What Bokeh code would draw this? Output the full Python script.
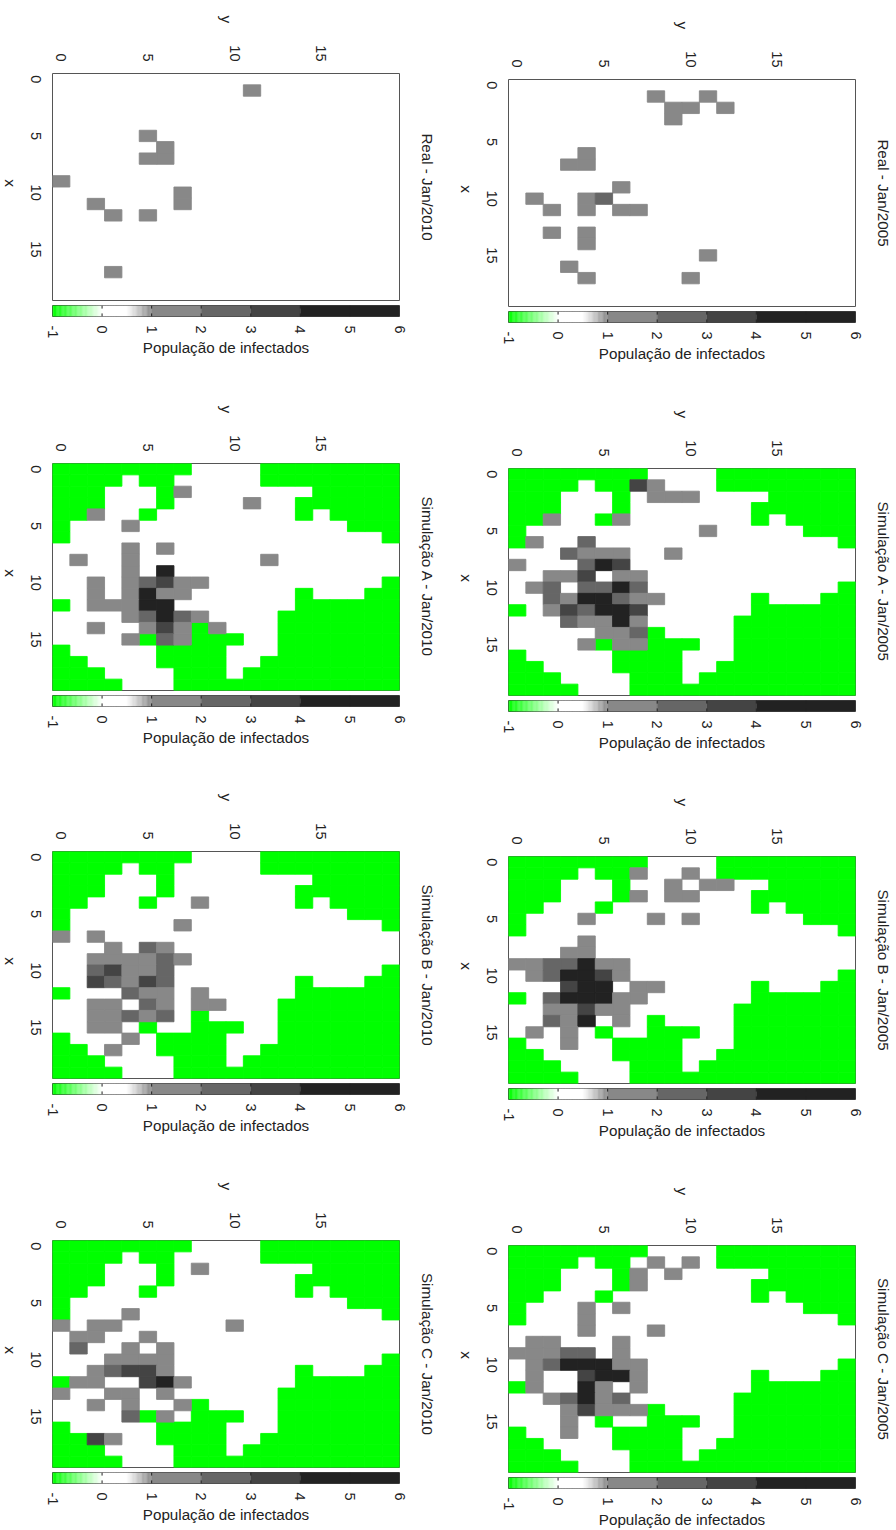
import math
import numpy as np
from bokeh.plotting import figure
from bokeh.layouts import column, row
from bokeh.models import Range1d, FixedTicker, LinearAxis, ColumnDataSource
from bokeh.embed import file_html
from bokeh.resources import INLINE

# Map mask: g = outside region (value -1, green), . = inside region
outside_mask = [
    "gggggggg....gggggggg",
    "gggg.gg.....gggggggg",
    "ggg...g........ggggg",
    "ggg...g.......gggggg",
    "gg...g........g.gggg",
    "g................ggg",
    "g..................g",
    "....................",
    "....................",
    "....................",
    "...................g",
    "..............g...gg",
    "g.............gggggg",
    ".............ggggggg",
    "........g....ggggggg",
    ".....g..ggg..ggggggg",
    "g.....gggg...ggggggg",
    "gg....gggg..gggggggg",
    "ggg....ggg.ggggggggg",
    "gggg...ggggggggggggg",
]

# (x, y, infected class)
real_2005 = [(1,8,1),(1,11,1),(2,9,1),(2,10,1),(2,12,1),(3,9,1),(6,4,1),(7,3,1),(7,4,1),(9,6,1),
             (10,1,1),(10,4,1),(10,5,2),(11,2,1),(11,4,1),(11,6,1),(11,7,1),(13,2,1),(13,4,1),(14,4,1),
             (15,11,1),(16,3,1),(17,4,1),(17,10,1)]
real_2010 = [(1,11,1),(5,5,1),(6,6,1),(7,5,1),(7,6,1),(9,0,1),(10,7,1),(11,7,1),(11,2,1),(12,3,1),(12,5,1),(17,3,1)]
sim_a_2005 = [(1,7,3),(1,8,1),(2,8,1),(2,9,1),(2,10,1),(4,2,1),(4,6,1),(5,11,1),(6,1,1),(6,4,2),
              (7,3,2),(7,4,1),(7,5,1),(7,6,1),(7,9,1),(8,0,1),(8,4,2),(8,5,4),(8,6,3),
              (9,2,1),(9,3,1),(9,4,3),(9,6,1),(9,7,1),
              (10,1,1),(10,2,2),(10,4,2),(10,5,2),(10,6,4),(10,7,2),
              (11,2,2),(11,3,1),(11,4,4),(11,5,4),(11,6,2),(11,7,1),(11,8,1),
              (12,2,1),(12,3,3),(12,4,2),(12,5,4),(12,6,4),(12,7,3),
              (13,3,2),(13,4,1),(13,5,1),(13,6,4),(13,7,1),
              (14,5,1),(14,6,1),(14,7,2),(15,4,1),(15,6,1),(15,7,1)]
sim_a_2010 = [(2,7,1),(3,11,1),(4,2,1),(5,4,1),(7,4,1),(7,6,1),(8,1,1),(8,4,1),(8,12,1),(9,4,1),(9,6,4),
              (10,2,1),(10,4,1),(10,5,2),(10,6,3),(10,7,1),(10,8,1),
              (11,2,1),(11,4,1),(11,5,4),(11,6,1),(11,7,1),
              (12,2,1),(12,3,1),(12,4,1),(12,5,4),(12,6,4),
              (13,4,1),(13,5,2),(13,6,4),(13,7,2),(13,8,1),
              (14,2,1),(14,5,1),(14,6,3),(14,7,1),(14,9,1),(15,4,1),(15,6,2),(15,7,1)]
sim_b_2005 = [(1,7,1),(1,10,1),(2,9,1),(2,11,1),(2,12,1),(3,7,1),(3,9,1),(3,10,1),(5,4,1),(5,8,1),(5,10,1),
              (7,4,1),(8,3,1),(8,4,1),
              (9,0,1),(9,1,1),(9,2,2),(9,3,2),(9,4,4),(9,5,1),(9,6,1),
              (10,1,1),(10,2,2),(10,3,4),(10,4,4),(10,5,3),(10,6,1),
              (11,3,3),(11,4,4),(11,5,4),(11,7,1),(11,8,1),
              (12,2,2),(12,3,4),(12,4,4),(12,5,4),(12,6,1),(12,7,1),
              (13,2,1),(13,3,1),(13,4,3),(13,5,1),(13,6,1),
              (14,2,2),(14,3,1),(14,4,4),(14,6,1),(15,1,1),(15,3,1),(16,3,1)]
sim_b_2010 = [(4,8,1),(6,7,1),(7,0,1),(7,2,1),(8,3,1),(8,5,2),(8,6,1),
              (9,2,1),(9,3,1),(9,4,1),(9,5,1),(9,6,2),(9,7,1),
              (10,2,2),(10,3,3),(10,4,1),(10,5,1),(10,6,2),
              (11,2,3),(11,3,2),(11,4,1),(11,5,3),(11,6,2),
              (12,4,2),(12,5,1),(12,6,1),(12,8,1),
              (13,2,1),(13,3,1),(13,5,2),(13,6,1),(13,8,1),(13,9,1),
              (14,2,1),(14,3,1),(14,4,2),(14,5,1),(14,6,2),
              (15,2,1),(15,3,1),(16,4,1),(17,3,1)]
sim_c_2005 = [(1,8,1),(1,10,1),(2,7,1),(2,9,1),(3,7,1),(5,4,1),(5,6,1),(6,4,1),(7,4,1),(7,8,1),
              (8,1,1),(8,2,1),(8,6,1),
              (9,0,1),(9,1,1),(9,2,1),(9,3,2),(9,4,2),(9,6,1),
              (10,1,1),(10,2,2),(10,3,4),(10,4,4),(10,5,4),(10,6,1),(10,7,1),
              (11,1,1),(11,4,3),(11,5,4),(11,6,4),(11,7,1),
              (12,1,1),(12,4,4),(12,5,1),(12,7,1),
              (13,2,1),(13,3,2),(13,4,4),(13,5,1),(13,6,2),
              (14,3,1),(14,4,3),(14,5,1),(14,6,1),(14,7,1),(15,3,1),(16,3,1)]
sim_c_2010 = [(2,8,1),(6,4,1),(7,0,1),(7,2,1),(7,3,1),(7,10,1),(8,1,1),(8,2,1),(8,5,1),
              (9,1,2),(9,4,1),(9,6,1),
              (10,3,1),(10,4,1),(10,5,1),(10,6,1),
              (11,2,1),(11,3,2),(11,4,3),(11,5,3),(11,6,1),
              (12,1,1),(12,2,1),(12,5,3),(12,6,4),(12,7,1),
              (13,0,1),(13,3,1),(13,4,1),(13,6,1),
              (14,2,1),(14,4,1),(14,7,1),(15,4,2),(15,6,1),(17,2,3),(17,3,1)]

level_colors = {1: "#888888", 2: "#666666", 3: "#444444", 4: "#222222"}
green = "#00ff00"
map_ticks = [0, 5, 10, 15]
bar_ticks = [-1, 0, 1, 2, 3, 4, 5, 6]
step_edges = [1, 2, 3, 4, 6]
step_colors = ["#888888", "#666666", "#444444", "#222222"]
ramp_nodes = [-1, 0, 0.5, 1]
ramp_r = [0, 255, 255, 136]
ramp_g = [255, 255, 255, 136]
ramp_b = [0, 255, 255, 136]
FONT = "Liberation Sans"
CW = -math.pi / 2
# Rotated left-axis labels end at their tick; half a label's length, in data units, centres them on the row.
half_label = {1: 0.355, 2: 0.71}

left_col = [("Real - Jan/2010", real_2010, False), ("Simulação A - Jan/2010", sim_a_2010, True),
            ("Simulação B - Jan/2010", sim_b_2010, True), ("Simulação C - Jan/2010", sim_c_2010, True)]
right_col = [("Real - Jan/2005", real_2005, False), ("Simulação A - Jan/2005", sim_a_2005, True),
             ("Simulação B - Jan/2005", sim_b_2005, True), ("Simulação C - Jan/2005", sim_c_2005, True)]
left_tops = [73, 463, 851, 1240]
right_tops = [79, 468, 856, 1245]


def heat(title, cells, has_mask, top_border, left_border, right_border):
    p = figure(frame_width=347, frame_height=227, x_range=Range1d(-0.5, 19.5), y_range=Range1d(19.5, -0.5),
               x_axis_location="above", toolbar_location=None, output_backend="svg",
               min_border_top=top_border, min_border_bottom=5, min_border_left=left_border,
               min_border_right=right_border, background_fill_color="white", border_fill_color="white")
    p.grid.visible = False
    p.outline_line_color = "#555555"
    p.outline_line_width = 1
    for ax, lab, tick_st, label_st in ((p.xaxis[0], "y", 6, 19), (p.yaxis[0], "x", 11, 12)):
        ax.ticker = FixedTicker(ticks=map_ticks)
        ax.axis_line_color = None
        ax.major_tick_line_color = None
        ax.minor_tick_line_color = None
        ax.major_label_orientation = CW
        ax.major_label_text_font = FONT
        ax.major_label_text_font_size = "14.5px"
        ax.major_label_text_color = "#222222"
        ax.major_label_standoff = tick_st
        ax.axis_label = lab
        ax.axis_label_orientation = CW
        ax.axis_label_text_font = FONT
        ax.axis_label_text_font_size = "15.5px"
        ax.axis_label_text_font_style = "normal"
        ax.axis_label_text_color = "#222222"
        ax.axis_label_standoff = label_st
    nudged = {t + half_label[len(str(t))]: str(t) for t in map_ticks}
    p.yaxis[0].ticker = FixedTicker(ticks=list(nudged))
    p.yaxis[0].major_label_overrides = nudged
    if has_mask:
        gx, gy = [], []
        for i, line in enumerate(outside_mask):
            for j, ch in enumerate(line):
                if ch == "g":
                    gx.append(i); gy.append(j)
        p.rect(x=gy, y=gx, width=1, height=1, fill_color=green, line_color=green, line_width=0.9)
    src = ColumnDataSource(dict(x=[c[0] for c in cells], y=[c[1] for c in cells],
                                c=[level_colors[c[2]] for c in cells]))
    p.rect(x="y", y="x", width=1, height=1, fill_color="c", line_color="c", line_width=0.9, source=src)
    side = LinearAxis(ticker=FixedTicker(ticks=[]), axis_line_color=None, major_tick_line_color=None,
                      minor_tick_line_color=None, axis_label=title, axis_label_text_font=FONT,
                      axis_label_text_font_size="15.2px", axis_label_text_font_style="normal",
                      axis_label_text_color="#222222", axis_label_standoff=19)
    p.add_layout(side, "right")
    return p


def colorbar(bottom_border, left_border, right_border):
    p = figure(frame_width=347, frame_height=11, x_range=Range1d(-1, 6), y_range=Range1d(0, 1),
               toolbar_location=None, output_backend="svg", min_border_top=0, min_border_bottom=bottom_border,
               min_border_left=left_border, min_border_right=right_border, border_fill_color="white")
    p.grid.visible = False
    p.yaxis.visible = False
    p.outline_line_color = "#444444"
    edges = np.linspace(-1, 1, 81)
    mids = (edges[:-1] + edges[1:]) / 2
    r = np.interp(mids, ramp_nodes, ramp_r); g = np.interp(mids, ramp_nodes, ramp_g); b = np.interp(mids, ramp_nodes, ramp_b)
    cols = ["#%02x%02x%02x" % (int(a), int(c), int(d)) for a, c, d in zip(r, g, b)]
    p.quad(left=edges[:-1], right=edges[1:], bottom=0, top=1, fill_color=cols, line_color=cols, line_width=0.3)
    p.quad(left=step_edges[:-1], right=step_edges[1:], bottom=0, top=1, fill_color=step_colors, line_color=step_colors, line_width=0.3)
    inner = bar_ticks[1:-1]
    p.segment(x0=inner, x1=inner, y0=0, y1=0.28, line_color="#222222", line_width=1)
    p.segment(x0=inner, x1=inner, y0=0.72, y1=1, line_color="#222222", line_width=1)
    ax = p.xaxis[0]
    ax.ticker = FixedTicker(ticks=bar_ticks)
    ax.major_label_overrides = {-1: "-1"}
    ax.axis_line_color = None
    ax.major_tick_line_color = None
    ax.minor_tick_line_color = None
    ax.major_label_orientation = CW
    ax.major_label_text_font = FONT
    ax.major_label_text_font_size = "14.5px"
    ax.major_label_text_color = "#222222"
    ax.major_label_standoff = 3
    ax.axis_label = "População de infectados"
    ax.axis_label_text_font = FONT
    ax.axis_label_text_font_size = "15.2px"
    ax.axis_label_text_font_style = "normal"
    ax.axis_label_text_color = "#222222"
    ax.axis_label_standoff = -2
    return p


def build(panels, tops, left_border, right_border):
    kids = []
    cursor = 0
    for k, (title, cells, has_mask) in enumerate(panels):
        bottom = 60 if k < 3 else 40
        kids.append(heat(title, cells, has_mask, tops[k] - cursor, left_border, right_border))
        kids.append(colorbar(bottom, left_border, right_border))
        cursor = tops[k] + 227 + 5 + 11 + bottom
    return column(*kids, spacing=0)


page = row(build(left_col, left_tops, 62, 47), build(right_col, right_tops, 62, 41), spacing=0,
           margin=(0, 0, 0, -10))
open("out.html", "w").write(file_html(page, INLINE))
